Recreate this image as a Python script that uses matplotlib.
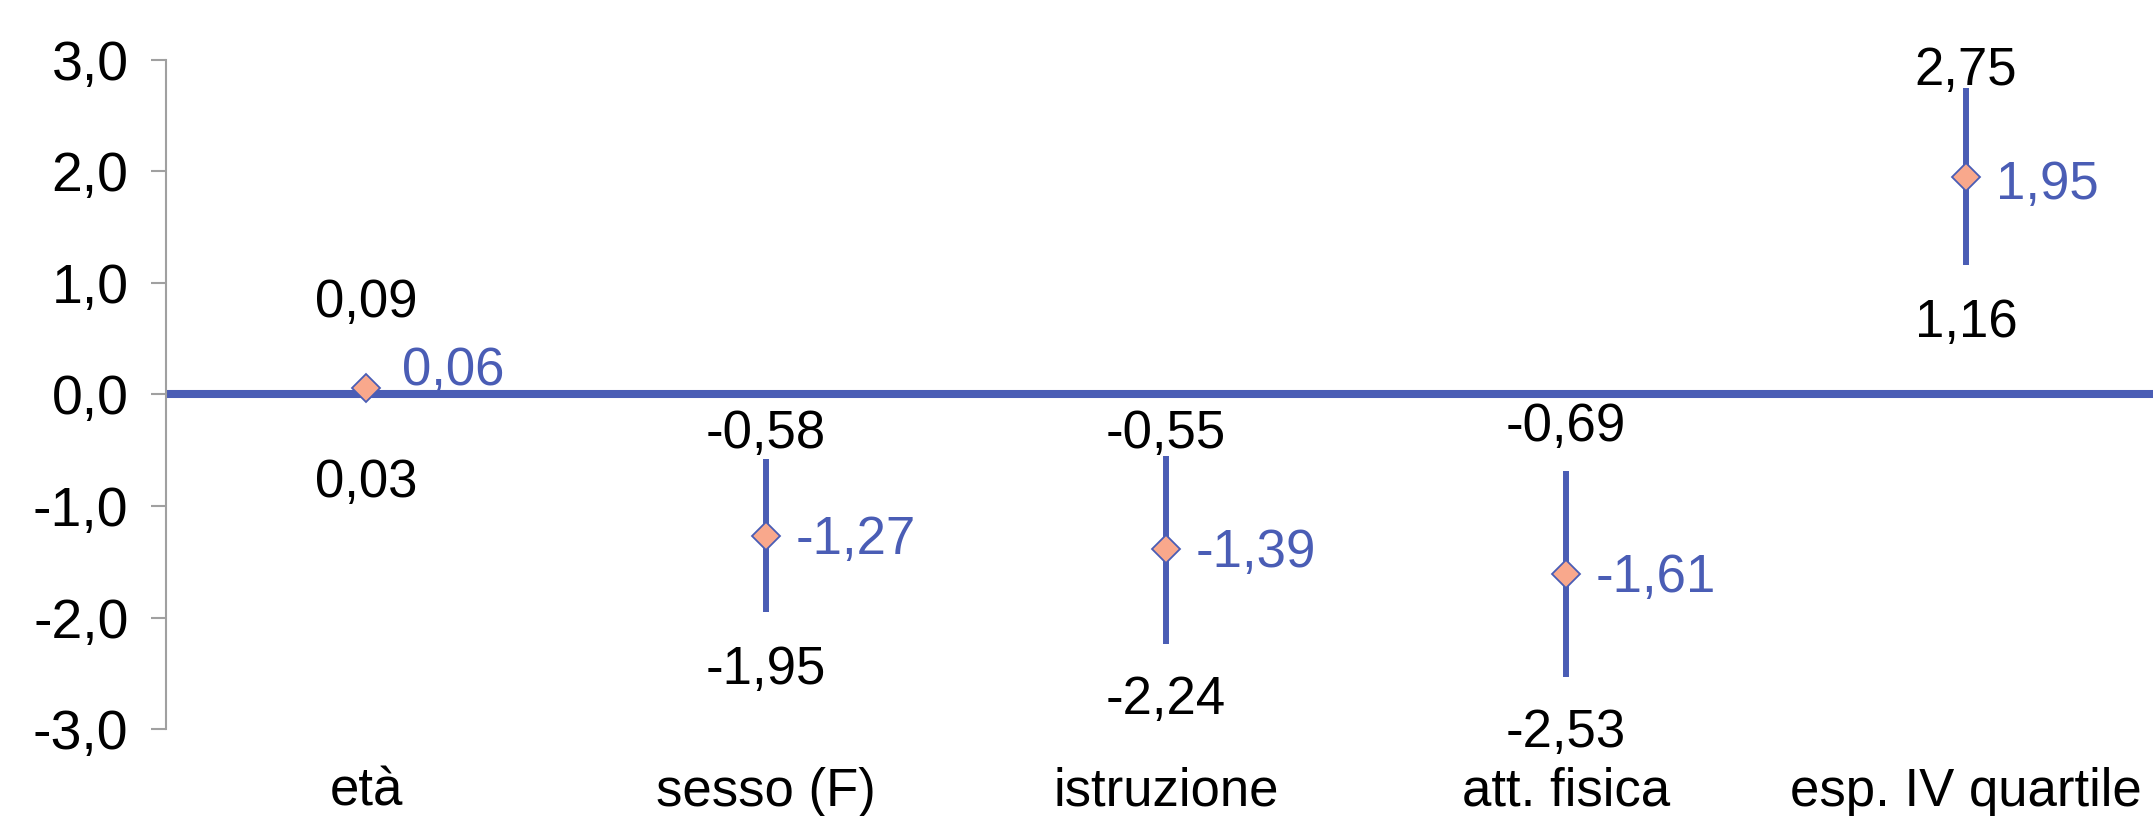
import numpy as np
import matplotlib
matplotlib.use("Agg")
import matplotlib.pyplot as plt

plt.rcParams['font.family'] = ['Liberation Sans', 'DejaVu Sans']

# data
categorie = ["età", "sesso (F)", "istruzione", "att. fisica", "esp. IV quartile"]
stima = [0.06, -1.27, -1.39, -1.61, 1.95]
lim_inf = [0.03, -1.95, -2.24, -2.53, 1.16]
lim_sup = [0.09, -0.58, -0.55, -0.69, 2.75]

blu = '#4A5DB5'
salmone = '#F9A88C'

def fmt(v):
    return ("%.2f" % v).replace('.', ',')

fig = plt.figure(figsize=(21.53, 8.16), dpi=100)
ax = fig.add_axes([0.0771, 0.1066, 1 - 0.0771, 0.8199])

x = np.arange(len(categorie))
ax.axhline(0, color=blu, lw=5.8, zorder=1)
ax.vlines(x, lim_inf, lim_sup, color=blu, lw=4.3, zorder=2)
ax.plot(x, stima, ls='none', marker='D', ms=14.5, mfc=salmone, mec=blu, mew=1.3, zorder=3)

# label offsets in pixels (excel placed them by hand)
off_sup = [81, 25, 22, 44, 17]
off_inf = [-92, -58, -56, -56, -58]
off_st = [(36, 17), (30, -4), (30, -4), (30, -4), (30, -8)]

fs = 38
for i in range(len(categorie)):
    ax.annotate(fmt(lim_sup[i]), (x[i], lim_sup[i]), xytext=(0, off_sup[i]),
                textcoords='offset pixels', ha='center', va='center', fontsize=fs, color='black')
    ax.annotate(fmt(lim_inf[i]), (x[i], lim_inf[i]), xytext=(0, off_inf[i]),
                textcoords='offset pixels', ha='center', va='center', fontsize=fs, color='black')
    ax.annotate(fmt(stima[i]), (x[i], stima[i]), xytext=off_st[i],
                textcoords='offset pixels', ha='left', va='center', fontsize=fs, color=blu)

ax.set_xlim(-0.5, 4.4675)
ax.set_ylim(-3, 3)
ax.set_yticks(np.arange(-3, 3.1, 1))
ax.set_yticklabels([("%.1f" % v).replace('.', ',') for v in np.arange(-3, 3.1, 1)])
ax.set_xticks(x)
ax.set_xticklabels(categorie)

for s in ['top', 'right', 'bottom']:
    ax.spines[s].set_visible(False)
ax.spines['left'].set_color('#A0A0A0')
ax.spines['left'].set_linewidth(1.5)
ax.tick_params(axis='y', length=11, width=1.5, color='#A0A0A0', labelsize=40, pad=16)
ax.tick_params(axis='x', length=0, labelsize=38, pad=27)

fig.savefig('out.png', dpi=100)
